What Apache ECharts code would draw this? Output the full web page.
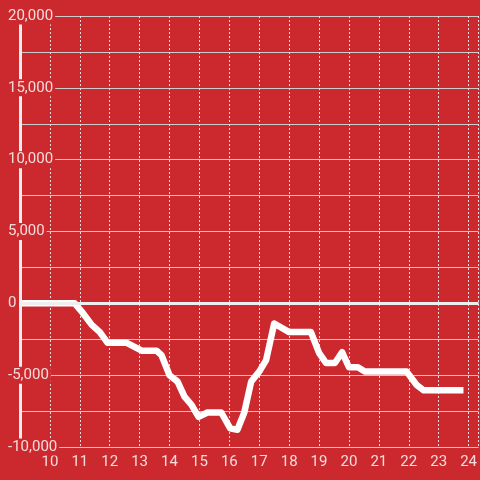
<!DOCTYPE html>
<html>
<head>
<meta charset="utf-8">
<style>
html,body{margin:0;padding:0;background:#cc292e;}
#chart{width:480px;height:480px;}
</style>
<script src="https://cdn.jsdelivr.net/npm/echarts@6/dist/echarts.min.js"></script>
</head>
<body>
<div id="chart"></div>
<script>
// Data
var times = [9, 10.83, 11.1, 11.4, 11.67, 11.93, 12.57, 13.07, 13.57, 13.73, 14, 14.27, 14.5, 14.73, 14.97, 15.27, 15.73, 16.03, 16.27, 16.5, 16.73, 17, 17.23, 17.5, 18, 18.73, 19, 19.23, 19.53, 19.77, 20, 20.3, 20.53, 21.93, 22.27, 22.5, 23.83];
var values = [0, 0, -670, -1500, -2000, -2750, -2750, -3300, -3300, -3600, -5000, -5450, -6500, -7050, -7900, -7600, -7600, -8700, -8800, -7600, -5450, -4750, -3950, -1400, -2000, -2000, -3450, -4150, -4150, -3400, -4450, -4450, -4750, -4750, -5700, -6050, -6050];
var xTicks = [10, 11, 12, 13, 14, 15, 16, 17, 18, 19, 20, 21, 22, 23, 24];
var yLabels = [-10000, -5000, 0, 5000, 10000, 15000, 20000];

var BG = '#cc292e';
var TXT = '#f3dcdc';
var points = times.map(function (t, i) { return [t, values[i]]; });

var chart = echarts.init(document.getElementById('chart'), null, {renderer: 'canvas'});
chart.setOption({
  backgroundColor: BG,
  animation: false,
  grid: {left: 20, right: 0, top: 16, bottom: 33, containLabel: false},
  xAxis: {
    type: 'value', min: 9, max: 24.333, interval: 1, z: 0,
    axisLine: {show: false}, axisTick: {show: false},
    splitLine: {show: true, lineStyle: {color: '#e0e0e0', width: 1, type: [2, 2]}},
    axisLabel: {
      color: TXT, fontFamily: 'Roboto', fontSize: 15, margin: 8,
      showMinLabel: false, showMaxLabel: false,
      formatter: function (v) { return xTicks.indexOf(v) >= 0 ? String(v) : ''; }
    }
  },
  yAxis: [{
    type: 'value', min: -10000, max: 20000, interval: 2500, z: 3,
    axisLine: {show: true, lineStyle: {color: '#eeeeee', width: 3}},
    axisTick: {show: false},
    splitLine: {show: false},
    axisLabel: {
      align: 'left', margin: 14,
      formatter: function (v) {
        return yLabels.indexOf(v) >= 0 ? '{a|' + v.toLocaleString('en-US') + '}' : '';
      },
      rich: {a: {color: TXT, fontFamily: 'Roboto', fontSize: 15, backgroundColor: BG, padding: [1, 2, 1, 2]}}
    }
  }, {
    type: 'value', min: -10000, max: 20000, interval: 2500, z: 0, position: 'left',
    axisLine: {show: false}, axisTick: {show: false}, axisLabel: {show: false},
    splitLine: {show: true, lineStyle: {color: '#cccccc', width: 1}}
  }],
  series: [{
    type: 'line', yAxisIndex: 0, data: points, showSymbol: false, symbol: 'none',
    lineStyle: {color: '#ffffff', width: 6.5, join: 'round'},
    z: 2,
    markLine: {
      silent: true, symbol: 'none', label: {show: false},
      lineStyle: {color: '#eeeeee', width: 3, type: 'solid'},
      data: [{yAxis: 0}]
    }
  }]
});
</script>
</body>
</html>
